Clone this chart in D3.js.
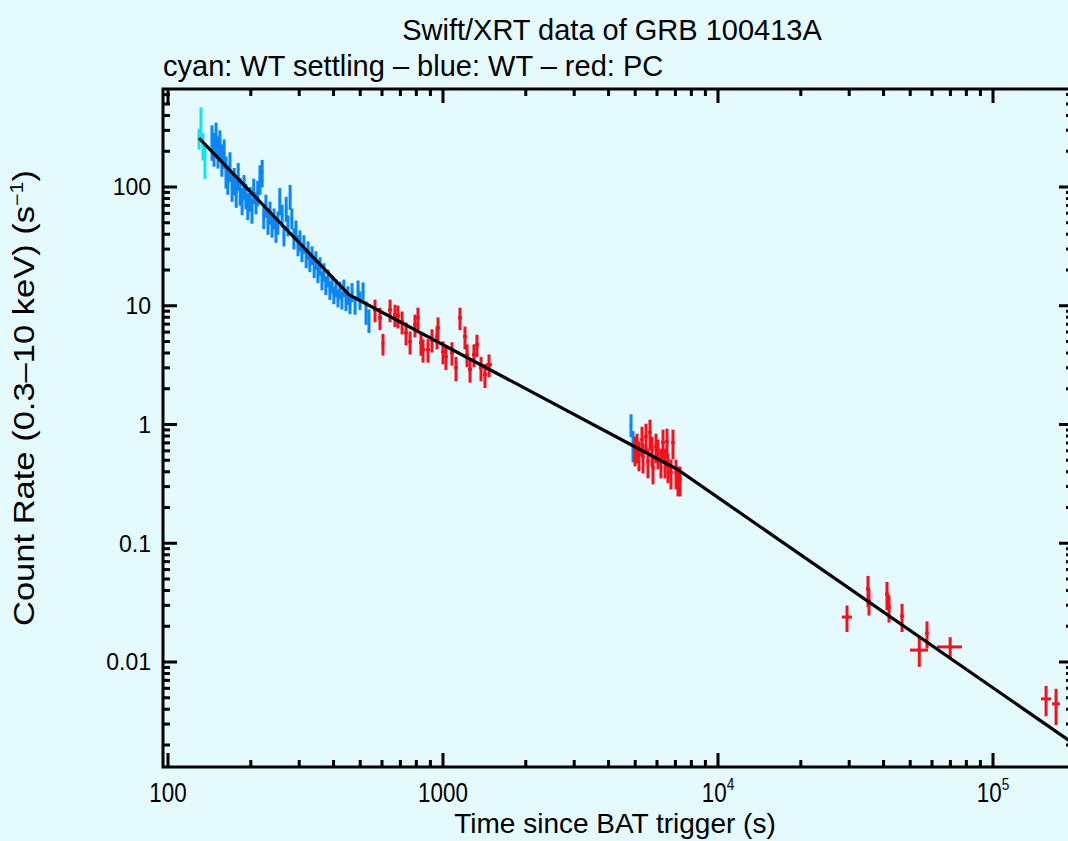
<!DOCTYPE html>
<html>
<head>
<meta charset="utf-8">
<script src="https://cdn.jsdelivr.net/npm/d3@7"></script>
<style>
  html, body { margin: 0; padding: 0; background: #e4fafd; }
  svg { display: block; }
  text { font-family: "Liberation Sans", Arial, sans-serif; fill: #000; }
</style>
</head>
<body>
<div id="chart"></div>
<script>
// WT settling (cyan)
const cyanT = [129.7, 131.8, 134.0, 136.3];
const cyanRate = [258, 352, 225, 175];
const cyanErr = [52, 116, 58, 58];

// WT (blue)
const blueT = [144.5, 147, 149.5, 152, 154.5, 157, 160, 162.5, 165, 168, 171, 174, 177, 180, 183, 186,
  189, 192, 195, 199, 202, 205, 209, 212, 216, 220, 223, 227, 231, 235, 239, 243, 247, 251, 255, 260,
  264, 269, 273, 278, 282, 287, 292, 297, 302, 307, 312, 318, 323, 328, 334, 340, 345, 351, 357, 363,
  369, 375, 382, 388, 395, 401, 408, 415, 422, 429, 436, 444, 451, 459, 467, 479, 491, 499, 512, 525,
  538, 4827, 4909];
const blueRate = [248, 217, 268, 205, 234, 175, 197, 139, 119, 153, 104, 114.5, 90.8, 126, 94.4, 77.8,
  102, 85.7, 70.6, 80.8, 64.1, 94.4, 74.8, 90.8, 119, 134, 58.2, 70.6, 50.8, 61.7, 48.0, 54.9, 43.5, 50.8, 77.8, 58.2,
  39.5, 66.6, 48.0, 84.1, 54.9, 37.3, 43.5, 32.6, 35.9, 28.4, 33.2, 25.3, 29.6, 23.4, 26.8, 20.9, 24.4, 18.9, 21.7, 16.5,
  19.3, 15.0, 17.2, 13.6, 15.3, 12.4, 14.2, 11.7, 13.6, 11.2, 14.2, 10.8, 12.4, 10.2, 13.1, 10.2, 13.6, 11.2, 13.1, 8.9,
  7.6, 1.0, 0.68];
const blueErr = [82, 69, 80, 62, 66, 53, 55, 42, 33, 43, 29, 30, 24, 33, 25, 20,
  24, 21, 18, 19, 15, 23, 16, 22, 33, 35, 14, 15.5, 11.2, 13.6, 10.6, 11, 9.6, 11.2, 20, 12.8,
  7.9, 16, 9.6, 20, 11, 7.5, 8.7, 6.5, 7.2, 5.1, 6.0, 4.6, 5.3, 4.2, 4.8, 3.8, 4.4, 3.4, 3.9, 3.0,
  3.5, 2.7, 2.9, 2.4, 2.6, 2.1, 2.4, 2.0, 2.3, 1.9, 2.4, 1.8, 2.2, 1.7, 2.4, 1.8, 2.7, 2.0, 2.6, 2.0,
  1.7, 0.22, 0.2];

// PC (red)
const redT = [566, 590, 605, 642, 669, 686, 710, 734, 759, 791, 811, 832, 846, 882, 912, 951, 959, 1000,
  1025, 1078, 1115, 1153, 1202, 1223, 1254, 1296, 1329, 1375, 1421, 1470,
  4992, 5076, 5161, 5292, 5337, 5472, 5565, 5658, 5754, 5802, 5950, 6050, 6204, 6310, 6416, 6524, 6579,
  6746, 6861, 7036, 7154, 7275,
  29450, 35110, 35410, 41170, 41860, 46690, 53950, 57540, 69870, 155950, 169550];
const redTErr = [10, 10, 8, 11, 11, 11, 12, 12, 12, 13, 13, 14, 14, 15, 15, 16, 16, 17,
  17, 18, 19, 19, 20, 20, 21, 22, 22, 23, 24, 37,
  75, 76, 77, 79, 80, 82, 83, 85, 86, 87, 89, 91, 93, 95, 96, 98, 99,
  101, 103, 105, 107, 109,
  1240, 600, 600, 700, 700, 800, 4065, 900, 7285, 6550, 5650];
const redRate = [9.26, 7.93, 4.80, 9.26, 8.40, 8.23, 7.34, 5.93, 4.98, 6.92, 7.93, 4.89, 4.27, 4.27, 5.18, 5.49, 6.53, 4.11,
  3.73, 4.03, 3.01, 7.93, 5.49, 3.88, 2.90, 3.88, 4.70, 3.01, 2.63, 3.19,
  0.617, 0.653, 0.560, 0.748, 0.538, 0.793, 0.489, 0.857, 0.617, 0.435, 0.653, 0.582, 0.489, 0.706, 0.489, 0.720, 0.444,
  0.395, 0.706, 0.395, 0.345, 0.345,
  0.0239, 0.0411, 0.0326, 0.0373, 0.0290, 0.0244, 0.0126, 0.0175, 0.0134, 0.00489, 0.00444];
const redErr = [2.0, 1.7, 1.0, 2.0, 1.8, 1.8, 1.6, 1.3, 1.1, 1.5, 1.7, 1.1, 0.95, 0.95, 1.15, 1.2, 1.45, 0.9,
  0.85, 0.9, 0.7, 1.7, 1.2, 0.85, 0.65, 0.85, 1.0, 0.7, 0.6, 0.7,
  0.173, 0.183, 0.157, 0.209, 0.151, 0.222, 0.137, 0.24, 0.173, 0.122, 0.183, 0.163, 0.137, 0.198, 0.137, 0.202, 0.124,
  0.111, 0.198, 0.111, 0.097, 0.097,
  0.006, 0.012, 0.008, 0.01, 0.0075, 0.0065, 0.0035, 0.0045, 0.0028, 0.0014, 0.0015];

// broken power-law model
const fitT = [129.7, 455, 7100, 195000];
const fitRate = [258, 12.4, 0.42, 0.00208];

const xTickLabels = [
  { v: 100, base: "100" },
  { v: 1000, base: "1000" },
  { v: 1e4, base: "10", exp: "4" },
  { v: 1e5, base: "10", exp: "5" },
];
const yTickLabels = [
  { v: 100, t: "100" },
  { v: 10, t: "10" },
  { v: 1, t: "1" },
  { v: 0.1, t: "0.1" },
  { v: 0.01, t: "0.01" },
];

const width = 1068, height = 841;
const pLeft = 163, pRight = 1073, pTop = 89, pBottom = 767;

const x = d3.scaleLog().domain([100, 1e5]).range([168, 993]);
const y = d3.scaleLog().domain([100, 0.01]).range([187, 662]);
x.domain([x.invert(pLeft), x.invert(pRight)]).range([pLeft, pRight]);
y.domain([y.invert(pTop), y.invert(pBottom)]).range([pTop, pBottom]);

const svg = d3.select("#chart").append("svg")
  .attr("width", width).attr("height", height);

svg.append("rect").attr("width", width).attr("height", height).attr("fill", "#e4fafd");

svg.append("defs").append("clipPath").attr("id", "plot")
  .append("rect").attr("x", pLeft).attr("y", pTop)
  .attr("width", pRight - pLeft).attr("height", pBottom - pTop);

const plot = svg.append("g").attr("clip-path", "url(#plot)");

// error bars: vertical (rate) and horizontal (time bin)
function drawSeries(ts, rates, errs, terrs, color, binFrac) {
  const g = plot.append("g").attr("stroke", color).attr("stroke-width", 3);
  ts.forEach((t, i) => {
    const r = rates[i], e = errs[i];
    const lo = Math.max(r - e, 1e-5);
    g.append("line")
      .attr("x1", x(t)).attr("x2", x(t))
      .attr("y1", y(r + e)).attr("y2", y(lo));
    const dt = terrs ? terrs[i] : t * binFrac;
    g.append("line")
      .attr("x1", x(t - dt)).attr("x2", x(t + dt))
      .attr("y1", y(r)).attr("y2", y(r));
  });
}

drawSeries(cyanT, cyanRate, cyanErr, null, "#12e6ea", 0.008);
drawSeries(blueT, blueRate, blueErr, null, "#0b86f2", 0.01);
drawSeries(redT, redRate, redErr, redTErr, "#f5101c");

const line = d3.line().x(d => x(d[0])).y(d => y(d[1]));
plot.append("path")
  .datum(fitT.map((t, i) => [t, fitRate[i]]))
  .attr("d", line)
  .attr("fill", "none")
  .attr("stroke", "#000")
  .attr("stroke-width", 3.2);

// frame and ticks
const axes = svg.append("g").attr("stroke", "#000").attr("stroke-width", 3);
axes.append("rect").attr("x", pLeft).attr("y", pTop)
  .attr("width", pRight - pLeft).attr("height", pBottom - pTop)
  .attr("fill", "none");

const isMajor = v => Math.abs(Math.log10(v) - Math.round(Math.log10(v))) < 1e-6;

x.ticks().filter(v => x(v) > pLeft + 1 && x(v) < pRight - 1).forEach(v => {
  const len = isMajor(v) ? 14 : 7;
  axes.append("line").attr("x1", x(v)).attr("x2", x(v)).attr("y1", pBottom).attr("y2", pBottom - len);
  axes.append("line").attr("x1", x(v)).attr("x2", x(v)).attr("y1", pTop).attr("y2", pTop + len);
});
y.ticks().filter(v => y(v) > pTop + 1 && y(v) < pBottom - 1).forEach(v => {
  const len = isMajor(v) ? 14 : 7;
  axes.append("line").attr("y1", y(v)).attr("y2", y(v)).attr("x1", pLeft).attr("x2", pLeft + len);
  axes.append("line").attr("y1", y(v)).attr("y2", y(v)).attr("x1", pRight).attr("x2", pRight - len);
});

// tick labels
xTickLabels.forEach(d => {
  const t = svg.append("text")
    .attr("transform", `translate(${x(d.v)},802) scale(0.8,1)`)
    .attr("text-anchor", "middle")
    .style("font-size", "28px");
  t.append("tspan").text(d.base);
  if (d.exp) t.append("tspan").attr("dy", -12).style("font-size", "17px").text(d.exp);
});

yTickLabels.forEach(d => {
  svg.append("text")
    .attr("x", 151).attr("y", y(d.v))
    .attr("dy", "0.36em")
    .attr("text-anchor", "end")
    .style("font-size", "23px")
    .text(d.t);
});

// titles
svg.append("text")
  .attr("x", 612).attr("y", 40)
  .attr("text-anchor", "middle")
  .style("font-size", "29px")
  .text("Swift/XRT data of GRB 100413A");

svg.append("text")
  .attr("x", 163).attr("y", 76)
  .style("font-size", "29px")
  .text("cyan: WT settling \u2013 blue: WT \u2013 red: PC");

svg.append("text")
  .attr("x", 615).attr("y", 833)
  .attr("text-anchor", "middle")
  .style("font-size", "28px")
  .text("Time since BAT trigger (s)");

const yl = svg.append("text")
  .attr("transform", "translate(34,398) rotate(-90)")
  .attr("text-anchor", "middle")
  .attr("textLength", 456)
  .attr("lengthAdjust", "spacingAndGlyphs")
  .style("font-size", "29px");
yl.append("tspan").text("Count Rate (0.3\u201310 keV) (s");
yl.append("tspan").attr("dy", -11).style("font-size", "18px").text("\u22121");
yl.append("tspan").attr("dy", 11).text(")");
</script>
</body>
</html>
